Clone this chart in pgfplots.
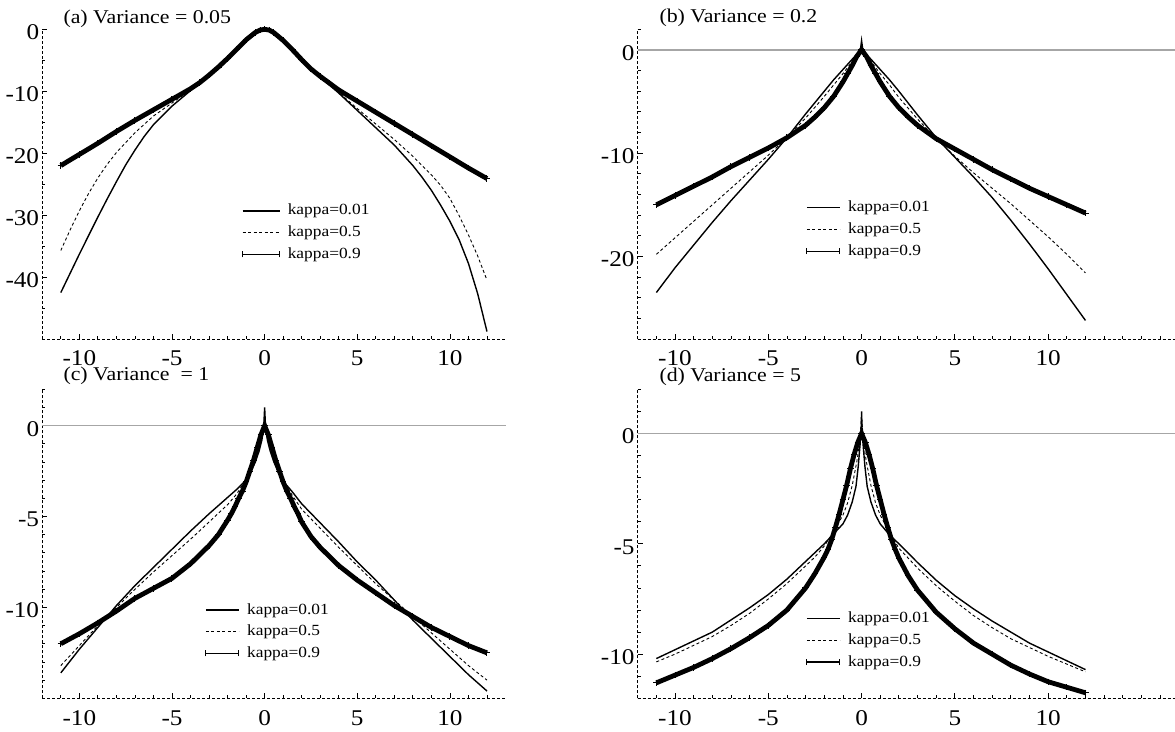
\documentclass[border=0pt]{standalone}
\usepackage{fontspec}
\setmainfont{Liberation Serif}[FakeStretch=1.12]
\usepackage{pgfplots}
\pgfplotsset{compat=1.18}
\newcommand\legfont{\fontsize{15.5}{16}\selectfont}
\pgfplotsset{
  panel/.style={
    scale only axis, anchor=south west,
    axis x line*=bottom, axis y line*=left,
    axis line style={densely dashed, line width=0.9pt},
    tick align=inside,
    major tick length=5pt, minor tick length=3pt,
    tick style={black, line width=0.8pt, solid},
    xtick={-10,-5,0,5,10}, xticklabels={-10,-5,0,5,10},
    tick label style={font=\fontsize{22.5}{22.5}\selectfont},
    xticklabel style={anchor=base, yshift=-27pt, inner sep=0pt},
    yticklabel style={anchor=east, xshift=-3pt, yshift=-3pt, inner sep=0pt},
    clip=false,
    legend cell align=left,
    legend style={draw=none, fill=none, inner sep=0pt, row sep=7.7pt, column sep=7.5pt,
      font=\legfont, anchor=north west,
      nodes={inner sep=0pt, text height=11pt, text depth=3pt, font=\legfont}},
  },
  k1/.style={black, line width=1.4pt,
    legend image code/.code={\draw[black,line width=1.4pt] (0pt,0pt) -- (\leglen,0pt);}},
  k2/.style={black, line width=0.9pt, dash pattern=on 3pt off 2.5pt,
    legend image code/.code={\draw[black,line width=0.9pt,dash pattern=on 3pt off 2.5pt] (0pt,0pt) -- (\leglen,0pt);}},
  k3/.style={black, line width=4.8pt, mark=+, mark size=3.2pt, mark options={solid, line width=1pt},
    legend image code/.code={\draw[black,line width=1.2pt] (0pt,0pt) -- (\leglen,0pt);
      \draw[black,line width=1pt] (0pt,-3pt) -- (0pt,3pt) (\leglen,-3pt) -- (\leglen,3pt);}},
  zeroline/.style={forget plot, black!35, line width=1.5pt},
}
\begin{document}
\begin{tikzpicture}
\path[use as bounding box] (0pt,0pt) rectangle (1175pt,731pt);
\def\leglen{37pt}
% (a)
\begin{axis}[panel, at={(42.3pt,392pt)}, width=463.2pt, height=309.7pt,
  xmin=-12, xmax=13, ymin=-50, ymax=0,
  minor xtick={-11,...,12},
  ytick={-40,-30,-20,-10,0}, yticklabels={-40,-30,-20,-10,0},
  minor ytick={-45,-35,-25,-15,-5},
  legend style={at={(0.4305,0.437)}}]
\addplot[k1] coordinates {(-11,-42.5) (-10.5,-39.4) (-10,-36.3) (-9.5,-33.3) (-9,-30.3) (-8.5,-27.4) (-8,-24.6) (-7.5,-21.9) (-7,-19.5) (-6.5,-17.3) (-6,-15.4) (-5,-12.4) (-4,-9.9) (-3,-7.4) (-2,-4.8) (-1.5,-3.3) (-1,-1.8) (-0.5,-0.55) (0,0) (0.5,-0.55) (1,-1.8) (1.5,-3.3) (2,-4.9) (3,-7.7) (4,-10.3) (5,-13.1) (6,-15.9) (7,-18.7) (8,-22.0) (8.5,-23.9) (9,-26.0) (9.5,-28.4) (10,-31.0) (10.5,-34.0) (11,-37.8) (11.5,-42.7) (12,-48.8)};
\addplot[k2] coordinates {(-11,-35.7) (-10.5,-32.4) (-10,-29.3) (-9.5,-26.5) (-9,-24.0) (-8.5,-21.8) (-8,-19.9) (-7,-16.7) (-6,-14.0) (-5,-11.9) (-4,-9.8) (-3,-7.4) (-2,-4.8) (-1.5,-3.3) (-1,-1.8) (-0.5,-0.55) (0,0) (0.5,-0.55) (1,-1.8) (1.5,-3.3) (2,-4.9) (3,-7.7) (4,-10.2) (5,-12.8) (6,-15.3) (7,-17.8) (8,-20.5) (9,-23.5) (9.5,-25.2) (10,-27.3) (10.5,-30.1) (11,-33.2) (11.5,-36.6) (12,-40.5)};
\addplot[k3] coordinates {(-11,-22.0) (-10,-20.2) (-9,-18.4) (-8,-16.5) (-7,-14.7) (-6,-13.0) (-5,-11.3) (-4,-9.6) (-3.5,-8.6) (-3,-7.4) (-2.5,-6.1) (-2,-4.7) (-1.5,-3.2) (-1,-1.7) (-0.5,-0.5) (-0.25,-0.13) (0,0) (0.25,-0.13) (0.5,-0.55) (1,-1.8) (1.5,-3.3) (2,-4.9) (2.5,-6.4) (3,-7.6) (3.5,-8.7) (4,-9.8) (5,-11.6) (6,-13.4) (7,-15.2) (8,-17.0) (9,-18.8) (10,-20.6) (11,-22.4) (12,-24.1)};
\legend{kappa=0.01, kappa=0.5, kappa=0.9}
\end{axis}
% (b)
\def\leglen{33pt}
\begin{axis}[panel, at={(637.7pt,392pt)}, width=537.3pt, height=309.7pt,
  xmin=-12, xmax=16.8, ymin=-28, ymax=2,
  minor xtick={-11,...,16},
  ytick={-20,-10,0}, yticklabels={-20,-10,0},
  minor ytick={-28,-26,...,2},
  legend style={at={(0.3132,0.447)}}]
\addplot[zeroline] coordinates {(-12,0) (16.8,0)};
\addplot[k1] coordinates {(-11,-23.5) (-10,-21.1) (-9,-18.9) (-8,-16.7) (-7,-14.6) (-6,-12.6) (-5,-10.6) (-4,-8.5) (-3,-6.2) (-2,-4.0) (-1.5,-2.9) (-1,-1.9) (-0.5,-0.9) (-0.2,-0.3) (-0.05,0.2) (0,0.9) (0.05,0.2) (0.2,-0.3) (0.5,-0.9) (1,-1.9) (1.5,-2.9) (2,-4.0) (3,-6.3) (4,-8.5) (5,-10.4) (6,-12.3) (7,-14.3) (8,-16.5) (9,-18.8) (10,-21.2) (11,-23.7) (12,-26.2)};
\addplot[k2] coordinates {(-11,-19.8) (-10,-18.2) (-9,-16.6) (-8,-15.0) (-7,-13.4) (-6,-11.8) (-5,-10.2) (-4,-8.5) (-3,-6.6) (-2,-4.5) (-1.5,-3.4) (-1,-2.3) (-0.5,-1.1) (-0.2,-0.4) (0,0.3) (0.2,-0.4) (0.5,-1.1) (1,-2.3) (1.5,-3.4) (2,-4.6) (3,-6.7) (4,-8.6) (5,-10.3) (6,-11.9) (7,-13.4) (8,-14.9) (9,-16.5) (10,-18.1) (11,-19.8) (12,-21.6)};
\addplot[k3] coordinates {(-11,-15.0) (-10,-14.1) (-9,-13.2) (-8,-12.3) (-7,-11.3) (-6,-10.4) (-5,-9.5) (-4,-8.5) (-3,-7.3) (-2.5,-6.5) (-2,-5.6) (-1.5,-4.5) (-1,-3.1) (-0.75,-2.3) (-0.5,-1.5) (-0.25,-0.6) (0,0) (0.25,-0.6) (0.5,-1.5) (0.75,-2.3) (1,-3.1) (1.5,-4.5) (2,-5.6) (2.5,-6.5) (3,-7.3) (4,-8.6) (5,-9.6) (6,-10.6) (7,-11.6) (8,-12.5) (9,-13.4) (10,-14.2) (11,-15.0) (12,-15.8)};
\legend{kappa=0.01, kappa=0.5, kappa=0.9}
\end{axis}
% (c)
\begin{axis}[panel, at={(42.3pt,32.7pt)}, width=463.2pt, height=309pt,
  xmin=-12, xmax=13, ymin=-15, ymax=2,
  minor xtick={-11,...,12},
  ytick={-10,-5,0}, yticklabels={-10,-5,0},
  minor ytick={-15,...,2},
  legend style={at={(0.3513,0.309)}}]
\addplot[zeroline] coordinates {(-12,0) (13,0)};
\addplot[k1] coordinates {(-11,-13.6) (-10,-12.3) (-9,-11.1) (-8,-9.9) (-7,-8.8) (-6,-7.8) (-5,-6.8) (-4,-5.8) (-3,-4.85) (-2,-3.95) (-1.5,-3.5) (-1.2,-3.2) (-1,-2.95) (-0.75,-2.55) (-0.5,-2.0) (-0.3,-1.4) (-0.15,-0.8) (-0.05,-0.1) (0,1.0) (0.05,-0.1) (0.15,-0.8) (0.3,-1.4) (0.5,-2.0) (0.75,-2.6) (1,-3.05) (1.5,-3.65) (2,-4.3) (3,-5.35) (4,-6.4) (5,-7.5) (6,-8.5) (7,-9.6) (8,-10.7) (9,-11.7) (10,-12.7) (11,-13.7) (12,-14.6)};
\addplot[k2] coordinates {(-11,-13.2) (-10,-12.1) (-9,-11.0) (-8,-10.0) (-7,-9.0) (-6,-8.05) (-5,-7.15) (-4,-6.25) (-3,-5.3) (-2,-4.35) (-1.5,-3.75) (-1,-2.95) (-0.75,-2.4) (-0.5,-1.75) (-0.25,-0.9) (-0.1,-0.3) (0,0.4) (0.1,-0.3) (0.25,-0.9) (0.5,-1.75) (0.75,-2.4) (1,-3.0) (1.5,-3.85) (2,-4.6) (3,-5.65) (4,-6.7) (5,-7.7) (6,-8.7) (7,-9.6) (8,-10.5) (9,-11.4) (10,-12.3) (11,-13.2) (12,-14.0)};
\addplot[k3] coordinates {(-11,-12.0) (-10,-11.45) (-9,-10.85) (-8,-10.2) (-7,-9.5) (-6,-8.95) (-5,-8.4) (-4,-7.6) (-3,-6.6) (-2.5,-6.0) (-2,-5.2) (-1.8,-4.85) (-1.6,-4.45) (-1.4,-4.0) (-1.2,-3.6) (-1,-3.1) (-0.8,-2.5) (-0.6,-1.9) (-0.4,-1.2) (-0.2,-0.5) (0,0) (0.2,-0.5) (0.4,-1.2) (0.6,-1.9) (0.8,-2.5) (1,-3.1) (1.2,-3.6) (1.4,-4.0) (1.6,-4.45) (1.8,-4.85) (2,-5.3) (2.5,-6.1) (3,-6.7) (4,-7.7) (5,-8.5) (6,-9.2) (7,-9.9) (8,-10.5) (9,-11.1) (10,-11.6) (11,-12.1) (12,-12.5)};
\legend{kappa=0.01, kappa=0.5, kappa=0.9}
\end{axis}
% (d)
\begin{axis}[panel, at={(637.7pt,32.7pt)}, width=537.3pt, height=309pt,
  xmin=-12, xmax=16.8, ymin=-12, ymax=2,
  minor xtick={-11,...,16},
  ytick={-10,-5,0}, yticklabels={-10,-5,0},
  minor ytick={-12,...,2},
  legend style={at={(0.3132,0.281)}}]
\addplot[zeroline] coordinates {(-12,0) (16.8,0)};
\addplot[k1] coordinates {(-11,-10.2) (-10,-9.8) (-9,-9.4) (-8,-9.0) (-7,-8.45) (-6,-7.9) (-5,-7.3) (-4,-6.6) (-3,-5.8) (-2.5,-5.4) (-2,-5.0) (-1.5,-4.55) (-1,-4.1) (-0.75,-3.7) (-0.5,-3.1) (-0.3,-2.4) (-0.18,-1.5) (-0.08,-0.5) (-0.02,0.3) (0,1.0) (0.02,0.3) (0.08,-0.5) (0.18,-1.5) (0.3,-2.4) (0.5,-3.1) (0.75,-3.7) (1,-4.1) (1.5,-4.6) (2,-5.0) (3,-5.85) (4,-6.65) (5,-7.35) (6,-7.95) (7,-8.5) (8,-9.0) (9,-9.5) (10,-9.9) (11,-10.3) (12,-10.7)};
\addplot[k2] coordinates {(-11,-10.35) (-10,-10.0) (-9,-9.6) (-8,-9.2) (-7,-8.7) (-6,-8.15) (-5,-7.5) (-4,-6.8) (-3,-6.0) (-2.5,-5.6) (-2,-5.1) (-1.5,-4.45) (-1,-3.7) (-0.75,-3.15) (-0.5,-2.35) (-0.25,-1.25) (-0.1,-0.4) (0,0.8) (0.1,-0.4) (0.25,-1.25) (0.5,-2.35) (0.75,-3.15) (1,-3.7) (1.5,-4.5) (2,-5.2) (3,-6.1) (4,-6.9) (5,-7.6) (6,-8.25) (7,-8.8) (8,-9.3) (9,-9.7) (10,-10.1) (11,-10.45) (12,-10.8)};
\addplot[k3] coordinates {(-11,-11.3) (-10,-10.95) (-9,-10.6) (-8,-10.2) (-7,-9.75) (-6,-9.25) (-5,-8.7) (-4,-8.0) (-3,-7.0) (-2.5,-6.35) (-2,-5.6) (-1.8,-5.25) (-1.6,-4.8) (-1.4,-4.25) (-1.2,-3.65) (-1,-3.0) (-0.8,-2.35) (-0.6,-1.6) (-0.4,-0.95) (-0.2,-0.4) (0,0) (0.2,-0.4) (0.4,-0.95) (0.6,-1.6) (0.8,-2.35) (1,-3.0) (1.2,-3.65) (1.4,-4.25) (1.6,-4.8) (1.8,-5.25) (2,-5.65) (2.5,-6.45) (3,-7.1) (4,-8.1) (5,-8.85) (6,-9.5) (7,-10.0) (8,-10.5) (9,-10.9) (10,-11.25) (11,-11.5) (12,-11.75)};
\legend{kappa=0.01, kappa=0.5, kappa=0.9}
\end{axis}
% titles
\node[anchor=base west, inner sep=0pt, font=\fontsize{19.5}{20}\selectfont] at (63.3pt,707.5pt) {(a) Variance = 0.05};
\node[anchor=base west, inner sep=0pt, font=\fontsize{19.5}{20}\selectfont] at (659.3pt,708.5pt) {(b) Variance = 0.2};
\node[anchor=base west, inner sep=0pt, font=\fontsize{19.5}{20}\selectfont] at (63.3pt,350.5pt) {(c) Variance\ \ = 1};
\node[anchor=base west, inner sep=0pt, font=\fontsize{19.5}{20}\selectfont] at (659.3pt,349pt) {(d) Variance = 5};
\end{tikzpicture}
\end{document}
